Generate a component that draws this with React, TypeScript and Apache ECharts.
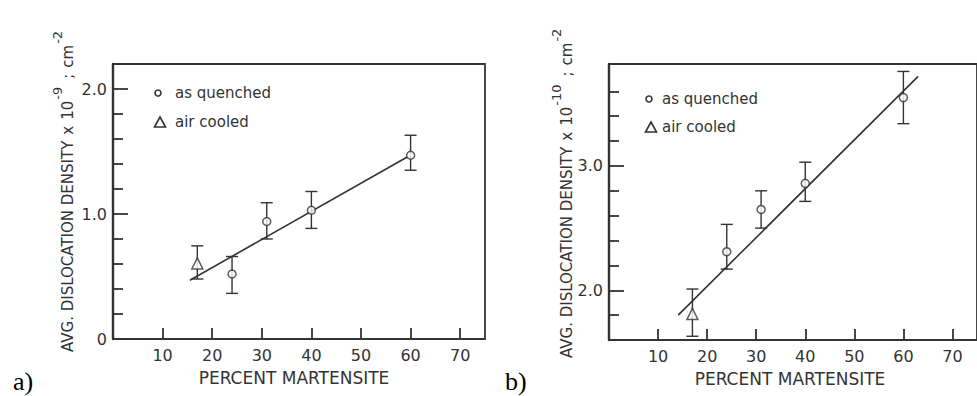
import React, { useEffect, useRef } from "react";
import * as echarts from "echarts";

// ---------- data ----------
const xTicks = [10, 20, 30, 40, 50, 60, 70];

// panel a
const quenchedX = [24, 31, 40, 60];
const quenchedA = [0.52, 0.94, 1.03, 1.47];
const quenchedLowA = [0.365, 0.8, 0.885, 1.35];
const quenchedHighA = [0.66, 1.09, 1.18, 1.63];
const airX = [17];
const airA = [0.605];
const airLowA = [0.48];
const airHighA = [0.745];
const fitXA = [15.5, 59.5];
const fitYA = [0.47, 1.46];
const yMajorA = [0, 1, 2];
const yMinorA = [0.2, 0.4, 0.6, 0.8, 1.2, 1.4, 1.6, 1.8];

// panel b
const quenchedB = [2.31, 2.65, 2.86, 3.55];
const quenchedLowB = [2.17, 2.5, 2.715, 3.34];
const quenchedHighB = [2.53, 2.8, 3.03, 3.76];
const airB = [1.81];
const airLowB = [1.63];
const airHighB = [2.01];
const fitXB = [14.1, 63.0];
const fitYB = [1.8, 3.72];
const yMajorB = [2, 3];
const yMinorB = [1.8, 2.2, 2.4, 2.6, 2.8, 3.2, 3.4, 3.6];

const xTitle = "PERCENT MARTENSITE";
const legendQ = "as quenched";
const legendA = "air cooled";

const INK = "#333333";
const FONT = "DejaVu Sans";

const zip2 = (xs: number[], ys: number[]) => xs.map((x, i) => [x, ys[i]]);
const zip3 = (xs: number[], a: number[], b: number[]) => xs.map((x, i) => [x, a[i], b[i]]);

const errRender = (_p: any, api: any) => {
  const x = api.value(0);
  const lo = api.value(1);
  const hi = api.value(2);
  const pLo = api.coord([x, lo]);
  const pHi = api.coord([x, hi]);
  const w = 6;
  const style = { stroke: INK, lineWidth: 1.4, fill: "none" };
  return {
    type: "group",
    children: [
      { type: "line", shape: { x1: pLo[0], y1: pLo[1], x2: pHi[0], y2: pHi[1] }, style },
      { type: "line", shape: { x1: pHi[0] - w, y1: pHi[1], x2: pHi[0] + w, y2: pHi[1] }, style },
      { type: "line", shape: { x1: pLo[0] - w, y1: pLo[1], x2: pLo[0] + w, y2: pLo[1] }, style },
    ],
  };
};

const fmt = (v: number) => (v === 0 ? "0" : v.toFixed(1));

function makeX(gridIndex: number) {
  return {
    type: "value",
    gridIndex,
    min: 0,
    max: 75,
    axisLine: { show: false },
    splitLine: { show: false },
    axisTick: { show: true, inside: true, length: 11, customValues: xTicks, lineStyle: { color: INK, width: 1.8 } },
    axisLabel: { customValues: xTicks, color: INK, fontSize: 16, fontFamily: FONT, margin: 8 },
  };
}

function makeY(gridIndex: number, min: number, max: number, major: number[]) {
  return {
    type: "value",
    gridIndex,
    min,
    max,
    position: "left",
    axisLine: { show: true, lineStyle: { color: INK, width: 2.4 } },
    splitLine: { show: false },
    axisTick: { show: true, inside: true, length: 15, customValues: major, lineStyle: { color: INK, width: 1.8 } },
    axisLabel: { customValues: major, formatter: fmt, color: INK, fontSize: 16, fontFamily: FONT, margin: 6 },
  };
}

function makeYMinor(gridIndex: number, min: number, max: number, minor: number[]) {
  return {
    type: "value",
    gridIndex,
    min,
    max,
    position: "left",
    axisLine: { show: false },
    splitLine: { show: false },
    axisTick: { show: true, inside: true, length: 10, customValues: minor, lineStyle: { color: INK, width: 1.8 } },
    axisLabel: { show: false },
  };
}

function panelSeries(xi: number, yi: number, q: number[], qLo: number[], qHi: number[], a: number[], aLo: number[], aHi: number[], fx: number[], fy: number[]) {
  return [
    {
      type: "line",
      xAxisIndex: xi,
      yAxisIndex: yi,
      data: zip2(fx, fy),
      showSymbol: false,
      symbol: "none",
      lineStyle: { color: INK, width: 1.6 },
      z: 2,
    },
    {
      type: "custom",
      xAxisIndex: xi,
      yAxisIndex: yi,
      renderItem: errRender,
      encode: { x: 0, y: [1, 2] },
      data: zip3(quenchedX, qLo, qHi).concat(zip3(airX, aLo, aHi)),
      z: 3,
    },
    {
      type: "scatter",
      xAxisIndex: xi,
      yAxisIndex: yi,
      data: zip2(quenchedX, q),
      symbol: "circle",
      symbolSize: 8,
      itemStyle: { color: "#ffffff", borderColor: INK, borderWidth: 1.5 },
      z: 4,
    },
    {
      type: "scatter",
      xAxisIndex: xi,
      yAxisIndex: yi,
      data: zip2(airX, a),
      symbol: "triangle",
      symbolSize: 11,
      itemStyle: { color: "#ffffff", borderColor: INK, borderWidth: 1.5 },
      z: 4,
    },
  ];
}

function yTitle(x: number, y: number, exp: string) {
  return {
    type: "text",
    x,
    y,
    rotation: Math.PI / 2,
    style: {
      text: `{m|AVG. DISLOCATION DENSITY}{g|x}{m|10}{s|-${exp}}{g|;}{m|cm}{s|-2}`,
      align: "left",
      verticalAlign: "middle",
      fill: INK,
      rich: {
        m: { fontSize: 15, fontFamily: FONT, fill: INK, verticalAlign: "bottom", lineHeight: 24 },
        g: { fontSize: 15, fontFamily: FONT, fill: INK, verticalAlign: "bottom", lineHeight: 24, padding: [0, 6, 0, 6] },
        s: { fontSize: 13, fontFamily: FONT, fill: INK, verticalAlign: "top", lineHeight: 24, padding: [0, 2, 0, 1] },
      },
    },
  };
}

function legend(cx: number, cy: number, tcx: number, tcy: number, tx: number) {
  return [
    { type: "circle", shape: { cx, cy, r: 3 }, style: { fill: "#fff", stroke: INK, lineWidth: 1.6 } },
    { type: "text", x: tx, y: cy, style: { text: legendQ, fill: INK, fontSize: 15, fontFamily: FONT, align: "left", verticalAlign: "middle" } },
    {
      type: "polygon",
      shape: { points: [[tcx, tcy - 5], [tcx + 5.5, tcy + 5], [tcx - 5.5, tcy + 5]] },
      style: { fill: "#fff", stroke: INK, lineWidth: 1.6 },
    },
    { type: "text", x: tx, y: tcy, style: { text: legendA, fill: INK, fontSize: 15, fontFamily: FONT, align: "left", verticalAlign: "middle" } },
  ];
}

export default function App() {
  const ref = useRef<HTMLDivElement>(null);
  useEffect(() => {
    if (!ref.current) return;
    const chart = echarts.init(ref.current, undefined, { renderer: "svg" });
    chart.setOption({
      animation: false,
      backgroundColor: "#ffffff",
      grid: [
        { left: 113, top: 64, width: 372, height: 275, show: true, borderColor: INK, borderWidth: 1.8, backgroundColor: "transparent" },
        { left: 609, top: 64, width: 376, height: 276, show: true, borderColor: INK, borderWidth: 1.8, backgroundColor: "transparent" },
      ],
      xAxis: [makeX(0), makeX(1)],
      yAxis: [
        makeY(0, 0, 2.2, yMajorA),
        makeYMinor(0, 0, 2.2, yMinorA),
        makeY(1, 1.6, 3.82, yMajorB),
        makeYMinor(1, 1.6, 3.82, yMinorB),
      ],
      series: [
        ...panelSeries(0, 0, quenchedA, quenchedLowA, quenchedHighA, airA, airLowA, airHighA, fitXA, fitYA),
        ...panelSeries(1, 2, quenchedB, quenchedLowB, quenchedHighB, airB, airLowB, airHighB, fitXB, fitYB),
      ],
      graphic: [
        yTitle(63, 352, "9"),
        yTitle(562, 358, "10"),
        { type: "text", x: 294, y: 378, style: { text: xTitle, fill: INK, fontSize: 17, fontFamily: FONT, align: "center", verticalAlign: "middle" } },
        { type: "text", x: 790, y: 379, style: { text: xTitle, fill: INK, fontSize: 17, fontFamily: FONT, align: "center", verticalAlign: "middle" } },
        ...legend(158, 93, 160, 122, 175),
        ...legend(649, 99, 651, 127, 662),
        { type: "text", x: 13, y: 381, style: { text: "a)", fill: "#000", fontSize: 26, fontFamily: "Liberation Serif", align: "left", verticalAlign: "middle" } },
        { type: "text", x: 505, y: 381, style: { text: "b)", fill: "#000", fontSize: 26, fontFamily: "Liberation Serif", align: "left", verticalAlign: "middle" } },
      ],
    });
    return () => chart.dispose();
  }, []);
  return <div ref={ref} style={{ position: "fixed", left: 0, top: 0, width: 977, height: 396, background: "#fff" }} />;
}
